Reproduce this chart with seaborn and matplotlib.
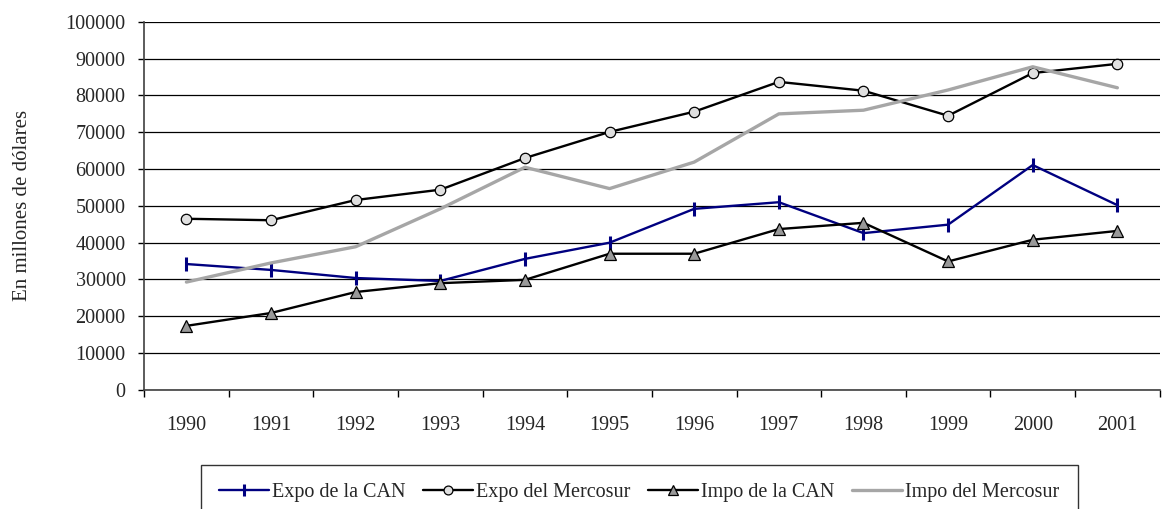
import numpy as np
import pandas as pd
import matplotlib
matplotlib.use("Agg")
import matplotlib.pyplot as plt
import seaborn as sns

# Data
years = ['1990', '1991', '1992', '1993', '1994', '1995',
         '1996', '1997', '1998', '1999', '2000', '2001']
expo_can = [34200, 32600, 30400, 29600, 35600, 40000,
            49200, 51000, 42600, 44900, 61100, 50200]
expo_mercosur = [46500, 46100, 51600, 54400, 63000, 70100,
                 75600, 83700, 81300, 74500, 86100, 88600]
impo_can = [17400, 20900, 26600, 29000, 29900, 37000,
            37000, 43700, 45400, 34900, 40800, 43200]
impo_mercosur = [29300, 34500, 38900, 49200, 60500, 54700,
                 61900, 75000, 76000, 81500, 87800, 82100]

sns.set_style("white")
plt.rcParams['font.family'] = ['Liberation Serif', 'DejaVu Serif']

fig = plt.figure(figsize=(11.62, 5.09), dpi=100)
ax = fig.add_axes([0.124, 0.234, 0.874, 0.723])

x = np.arange(len(years))
series = [
    ("Expo de la CAN", expo_can,
     dict(color="#000080", lw=1.7, marker="|", markersize=10, markeredgewidth=2.2,
          markeredgecolor="#000080")),
    ("Expo del Mercosur", expo_mercosur,
     dict(color="black", lw=1.7, marker="o", markersize=7.5,
          markerfacecolor="#e0e0e0", markeredgecolor="black", markeredgewidth=0.9)),
    ("Impo de la CAN", impo_can,
     dict(color="black", lw=1.7, marker="^", markersize=8,
          markerfacecolor="#999999", markeredgecolor="black", markeredgewidth=0.9)),
    ("Impo del Mercosur", impo_mercosur,
     dict(color="#a6a6a6", lw=2.4)),
]
for name, vals, style in series:
    sns.lineplot(x=x, y=vals, ax=ax, label=name, **style)

ax.set_xlim(-0.5, len(years) - 0.5)
ax.set_ylim(0, 100000)
ax.set_yticks(np.arange(0, 100001, 10000))
ax.yaxis.grid(True, color="black", lw=0.9)
ax.set_axisbelow(True)

# category ticks at boundaries, labels at centres
ax.set_xticks(np.arange(-0.5, len(years), 1.0))
ax.set_xticklabels([])
ax.set_xticks(x, minor=True)
ax.set_xticklabels(years, minor=True, fontsize=14.5)
ax.tick_params(axis='x', which='major', direction='out', length=5,
               width=1, color='black', bottom=True)
ax.tick_params(axis='x', which='minor', length=0, pad=19)
ax.tick_params(axis='y', direction='out', length=4.3, width=1,
               color='black', left=True, labelsize=14.5, pad=9)

for s in ['top', 'right']:
    ax.spines[s].set_visible(False)
for s in ['left', 'bottom']:
    ax.spines[s].set_color('#404040')
    ax.spines[s].set_linewidth(1.2)

ax.set_ylabel("En millones de dólares", fontsize=15, labelpad=24)
ax.set_xlabel("")

leg = ax.legend(loc='upper left', bbox_to_anchor=(201 / 1162, 1 - 465 / 509),
                bbox_transform=fig.transFigure, borderaxespad=0,
                ncol=4, frameon=True, fancybox=False, fontsize=14.5,
                handlelength=2.5, handletextpad=0.15, columnspacing=0.85,
                borderpad=0.9, markerscale=0.85)
leg.get_frame().set_edgecolor('black')
leg.get_frame().set_linewidth(1)

fig.savefig("out.png", dpi=100)
